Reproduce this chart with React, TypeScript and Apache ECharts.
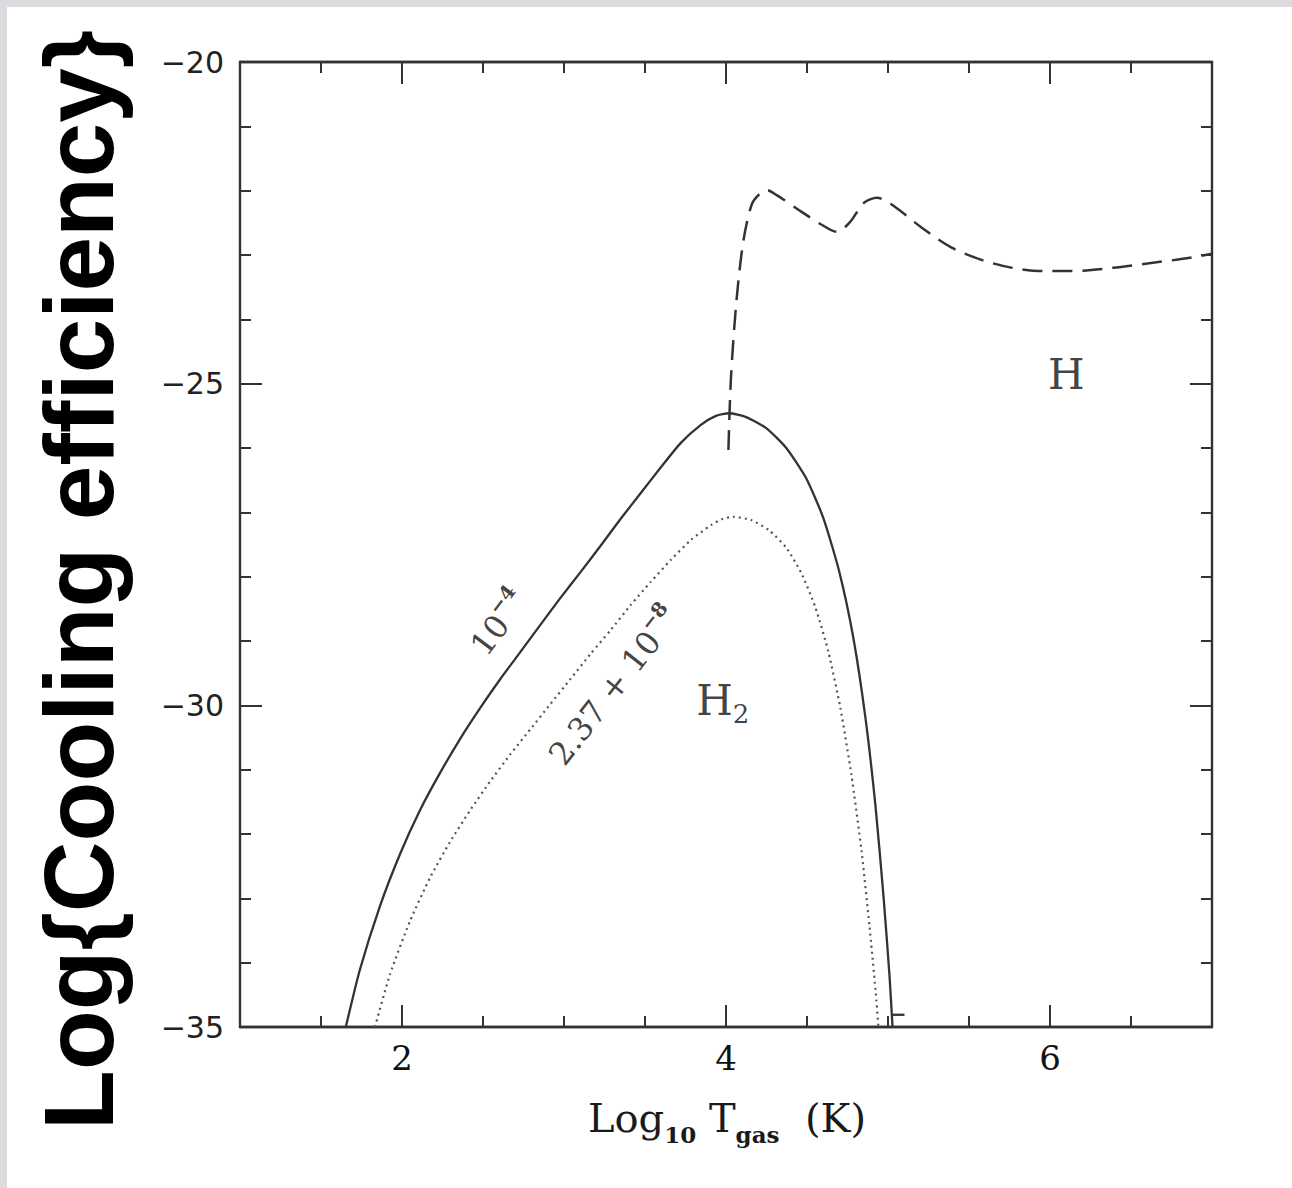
import React, { useEffect, useRef } from 'react';
import * as echarts from 'echarts';

// Axis ranges and tick labels
const xRange = [1, 7];
const yRange = [-35, -20];
const xMajorTicks = [2, 4, 6];
const yMajorTicks = [-35, -30, -25, -20];

// H2 cooling, x(H2) = 1e-4 (solid)
const solidX = [1.653, 1.74, 1.864, 1.988, 2.111, 2.235, 2.359, 2.483, 2.607, 2.731, 2.854, 2.978, 3.102, 3.226, 3.35, 3.474, 3.598, 3.721, 3.845, 3.938, 4.019, 4.124, 4.248, 4.372, 4.495, 4.601, 4.7, 4.786, 4.861, 4.923, 4.972, 5.009, 5.028];
const solidY = [-35, -34.11, -33.12, -32.31, -31.63, -31.05, -30.52, -30.04, -29.59, -29.17, -28.75, -28.33, -27.93, -27.52, -27.1, -26.7, -26.3, -25.92, -25.64, -25.5, -25.46, -25.52, -25.69, -26.0, -26.47, -27.09, -27.93, -28.95, -30.2, -31.57, -32.96, -34.19, -35];
// small horizontal stub at the end of the solid curve
const stubX = [5.028, 5.102];
const stubY = [-34.81, -34.81];

// H2 cooling, x(H2) = 2.37e-8 (dotted)
const dottedX = [1.833, 1.926, 2.05, 2.173, 2.297, 2.421, 2.545, 2.669, 2.793, 2.916, 3.04, 3.164, 3.288, 3.412, 3.536, 3.659, 3.783, 3.907, 3.981, 4.043, 4.155, 4.266, 4.372, 4.464, 4.551, 4.632, 4.706, 4.774, 4.836, 4.885, 4.923, 4.941];
const dottedY = [-35, -34.18, -33.35, -32.68, -32.12, -31.63, -31.18, -30.76, -30.37, -29.98, -29.59, -29.2, -28.83, -28.44, -28.08, -27.74, -27.43, -27.2, -27.1, -27.07, -27.12, -27.28, -27.55, -27.94, -28.47, -29.17, -30.04, -31.08, -32.25, -33.42, -34.43, -35];

// Atomic H cooling (dashed)
const dashedX = [4.015, 4.03, 4.065, 4.108, 4.158, 4.2, 4.25, 4.313, 4.467, 4.591, 4.684, 4.765, 4.851, 4.932, 5.025, 5.211, 5.396, 5.582, 5.768, 5.954, 6.139, 6.387, 6.635, 6.82, 7.0];
const dashedY = [-26.03, -24.94, -23.7, -22.77, -22.22, -22.07, -21.99, -22.07, -22.33, -22.53, -22.64, -22.49, -22.19, -22.11, -22.22, -22.58, -22.89, -23.08, -23.2, -23.25, -23.25, -23.2, -23.12, -23.06, -22.98];

// In-plot annotations
const annotTexts = ['{m|H}', '{m|H}{s|2}', '{m|10}{p|−4}', '{m|2.37 + 10}{p|−8}'];
const annotX = [6.1, 3.98, 2.6, 3.31];
const annotY = [-24.85, -29.92, -28.72, -29.7];
const annotAngles = [0, 0, 53, 52];

const INK = '#333333';
const SERIF = '"DejaVu Serif", serif';

export default function App() {
  const ref = useRef<HTMLDivElement>(null);
  useEffect(() => {
    if (!ref.current) return;
    const chart = echarts.init(ref.current, undefined, { renderer: 'svg' });
    const axisLineStyle = { color: INK, width: 2.4 };
    const tickStyle = { color: INK, width: 2 };
    const mkX = (pos: string, major: boolean, labels: boolean) => ({
      type: 'value',
      min: xRange[0],
      max: xRange[1],
      interval: major ? 1 : 0.5,
      position: pos,
      axisLine: { show: true, onZero: false, lineStyle: axisLineStyle },
      axisTick: major
        ? { show: true, inside: true, length: 22, customValues: xMajorTicks, lineStyle: tickStyle }
        : { show: true, inside: true, length: 11, lineStyle: tickStyle },
      axisLabel: labels
        ? { show: true, customValues: xMajorTicks, margin: 14, fontFamily: SERIF, fontSize: 34, color: '#111' }
        : { show: false },
      splitLine: { show: false },
    });
    const mkY = (pos: string, labels: boolean) => ({
      type: 'value',
      min: yRange[0],
      max: yRange[1],
      interval: 5,
      position: pos,
      axisLine: { show: true, onZero: false, lineStyle: axisLineStyle },
      axisTick: { show: true, inside: true, length: 22, lineStyle: tickStyle },
      minorTick: { show: true, splitNumber: 5, length: 11, lineStyle: tickStyle },
      axisLabel: labels
        ? {
            show: true,
            customValues: yMajorTicks,
            margin: 16,
            fontFamily: '"DejaVu Sans", sans-serif',
            fontSize: 30,
            color: '#222',
            formatter: (v: number) => String(v).replace('-', '\u2212'),
          }
        : { show: false },
      splitLine: { show: false },
    });
    const richBase = {
      m: { fontFamily: SERIF, fontSize: 42, color: '#111', lineHeight: 54 },
      s: { fontFamily: SERIF, fontSize: 26, color: '#111', lineHeight: 26, verticalAlign: 'bottom' },
    };
    const richSmall = {
      m: { fontFamily: SERIF, fontSize: 32, color: '#111', lineHeight: 44 },
      p: { fontFamily: SERIF, fontSize: 20, color: '#111', lineHeight: 20, verticalAlign: 'top', fontWeight: 'bold' },
    };
    chart.setOption({
      animation: false,
      backgroundColor: '#ffffff',
      grid: { left: 240, top: 62, width: 972, height: 965, outerBoundsMode: 'none' },
      xAxis: [mkX('bottom', false, false), mkX('bottom', true, true), mkX('top', false, false), mkX('top', true, false)],
      yAxis: [mkY('left', true), mkY('right', false)],
      graphic: [
        { type: 'rect', shape: { x: 0, y: 0, width: 1292, height: 7 }, style: { fill: '#dcdce0' }, silent: true },
        { type: 'rect', shape: { x: 0, y: 0, width: 7, height: 1188 }, style: { fill: '#dcdce0' }, silent: true },
        {
          type: 'text',
          x: 79,
          y: 580,
          rotation: Math.PI / 2,
          style: {
            text: 'Log{Cooling efficiency}',
            font: 'bold 98px "Liberation Sans", Arial, sans-serif',
            fill: '#000',
            textAlign: 'center',
            textVerticalAlign: 'middle',
          },
          silent: true,
        },
        {
          type: 'text',
          x: 727,
          y: 1118,
          style: {
            text: '{m|Log}{s|10}{m| T}{s|gas}{m|  (K)}',
            rich: {
              m: { fontFamily: SERIF, fontSize: 40, fill: '#1a1a1a', lineHeight: 56 },
              s: { fontFamily: SERIF, fontSize: 23, fontWeight: 'bold', fill: '#1a1a1a', lineHeight: 23, verticalAlign: 'bottom' },
            },
            textAlign: 'center',
            textVerticalAlign: 'middle',
          },
          silent: true,
        },
      ],
      series: [
        {
          type: 'line',
          data: solidX.map((x, i) => [x, solidY[i]]),
          showSymbol: false,
          smooth: 0.2,
          lineStyle: { color: INK, width: 2.3, type: 'solid' },
          silent: true,
        },
        {
          type: 'line',
          data: stubX.map((x, i) => [x, stubY[i]]),
          showSymbol: false,
          lineStyle: { color: INK, width: 2.3, type: 'solid' },
          silent: true,
        },
        {
          type: 'line',
          data: dottedX.map((x, i) => [x, dottedY[i]]),
          showSymbol: false,
          smooth: 0.2,
          lineStyle: { color: '#555', width: 2.2, type: [2, 4] },
          silent: true,
        },
        {
          type: 'line',
          data: dashedX.map((x, i) => [x, dashedY[i]]),
          showSymbol: false,
          smooth: 0.3,
          lineStyle: { color: INK, width: 2.5, type: [20, 10] },
          silent: true,
        },
        {
          type: 'scatter',
          symbolSize: 1,
          itemStyle: { color: 'rgba(0,0,0,0)' },
          silent: true,
          data: annotX.map((x, i) => ({
            value: [x, annotY[i]],
            label: {
              show: true,
              position: 'inside',
              rotate: annotAngles[i],
              formatter: annotTexts[i],
              rich: i < 2 ? richBase : richSmall,
            },
          })),
        },
      ],
    });
    return () => chart.dispose();
  }, []);
  return <div ref={ref} style={{ position: 'absolute', left: 0, top: 0, width: 1292, height: 1188 }} />;
}
